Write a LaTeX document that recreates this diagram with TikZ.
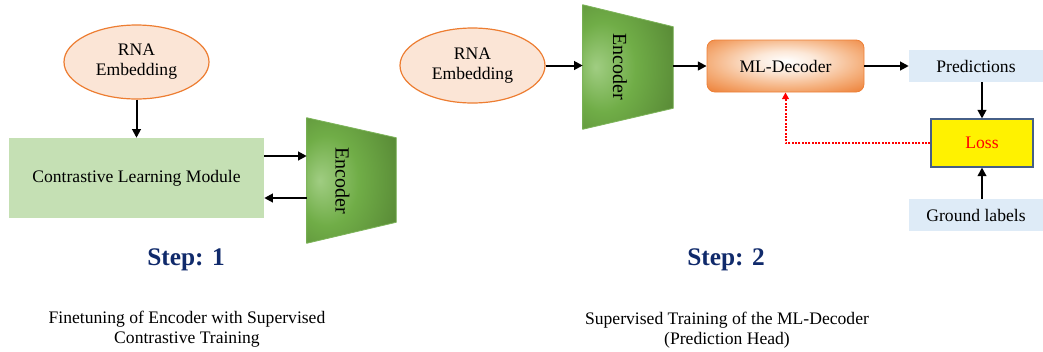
\documentclass[tikz,border=0pt]{standalone}
\usepackage{fontspec}
\setmainfont{Liberation Serif}
\usetikzlibrary{arrows.meta,calc,shapes.geometric}
\definecolor{peach}{RGB}{251,229,214}
\definecolor{orangeB}{RGB}{237,125,49}
\definecolor{mlpeach}{RGB}{245,178,128}
\definecolor{mllight}{RGB}{252,232,216}
\definecolor{mledge}{RGB}{237,128,55}
\definecolor{clmgreen}{RGB}{197,224,180}
\definecolor{lblue}{RGB}{222,235,247}
\definecolor{lossB}{RGB}{70,95,135}
\definecolor{navy}{RGB}{16,42,107}
\definecolor{encL}{RGB}{160,205,130}
\definecolor{encM}{RGB}{112,173,71}
\definecolor{encD}{RGB}{80,125,48}
\definecolor{encB}{RGB}{125,180,90}
\pgfdeclareradialshading{encshade}{\pgfpoint{-18bp}{0bp}}{color(0bp)=(encL); color(18bp)=(encM); color(46bp)=(encD); color(80bp)=(encD)}
\pgfdeclareradialshading{mlshade}{\pgfpoint{0bp}{5bp}}{color(0bp)=(white); color(10bp)=(mllight); color(24bp)=(mlpeach); color(37bp)=(mledge); color(80bp)=(mledge)}
\begin{document}
\begin{tikzpicture}[x=0.75pt,y=-0.75pt,
  every node/.style={font=\fontsize{13.2}{15}\selectfont, align=center, inner sep=0pt},
  arr/.style={-{Triangle[length=6.5pt,width=6.5pt]}, line width=1.5pt, black},
  redarr/.style={-{Triangle[length=5pt,width=5pt]}, line width=1.5pt, red, dash pattern=on 1.5pt off 1pt},
  ell/.style={ellipse, draw=orangeB, fill=peach, line width=0.9pt},
  encbox/.style={rectangle, draw=none},
  enctext/.style={rotate=-90, font=\fontsize{15}{17}\selectfont},
  lbox/.style={rectangle, fill=lblue, minimum width=100.5pt, minimum height=24pt},
  steplbl/.style={font=\fontsize{19}{22}\selectfont\bfseries, text=navy},
]
\useasboundingbox (0,0) rectangle (1043,351);

% ---------- Step 1 ----------
\node[ell, minimum width=108.75pt, minimum height=55.5pt] (ell1) at (136.5,62) {RNA\\Embedding};
\node[rectangle, fill=clmgreen, minimum width=191.25pt, minimum height=60pt] (clm) at (136.5,178) {Contrastive Learning Module};
\node[encbox, minimum width=66.75pt, minimum height=93.75pt] (enc1) at (351.5,180.5) {};
\shade[shading=encshade, draw=encB, line width=0.6pt] (enc1.north west) -- ($(enc1.north east)+(0,20)$) -- ($(enc1.south east)+(0,-21)$) -- (enc1.south west) -- cycle;
\node[enctext] (enc1t) at ($(enc1.center)+(-9,0)$) {Encoder};

\draw[arr] (ell1.south) -- (clm.north);
\draw[arr] (clm.east |- 0,156) -- (enc1.west |- 0,156);
\draw[arr] (enc1.west |- 0,198) -- (clm.east |- 0,198);

\node[steplbl] (s1) at (186,260) {Step: 1};
\node (d1) at (187,329) {Finetuning of Encoder with Supervised\\Contrastive Training};

% ---------- Step 2 ----------
\node[ell, minimum width=108.75pt, minimum height=56.25pt] (ell2) at (472.5,65.5) {RNA\\Embedding};
\node[encbox, minimum width=67.5pt, minimum height=93pt] (enc2) at (628,67) {};
\shade[shading=encshade, draw=encB, line width=0.6pt] (enc2.north west) -- ($(enc2.north east)+(0,22)$) -- ($(enc2.south east)+(0,-21)$) -- (enc2.south west) -- cycle;
\node[enctext] (enc2t) at ($(enc2.center)+(-8,0)$) {Encoder};

\node[rectangle, rounded corners=6pt, draw=mledge, line width=0.6pt, shading=mlshade, minimum width=117.75pt, minimum height=39pt] (ml) at (785.5,66) {ML-Decoder};
\node[lbox] (pred) at (976,66) {Predictions};
\node[rectangle, fill=yellow, draw=lossB, line width=0.8pt, text=red, minimum width=76.5pt, minimum height=36pt] (loss) at (982,143) {Loss};
\node[lbox] (gl) at (976,215) {Ground labels};

\draw[arr] (ell2.east) -- (enc2.west |- ell2.east);
\draw[arr] (enc2.east |- ml.west) -- (ml.west);
\draw[arr] (ml.east) -- (pred.west);
\draw[arr] (pred.south -| loss.north) -- (loss.north);
\draw[arr] (gl.north -| loss.south) -- (loss.south);
\draw[redarr] (loss.west) -| (ml.south);

\node[steplbl] (s2) at (726,260) {Step: 2};
\node (d2) at (727,330) {Supervised Training of the ML-Decoder\\(Prediction Head)};
\end{tikzpicture}
\end{document}
